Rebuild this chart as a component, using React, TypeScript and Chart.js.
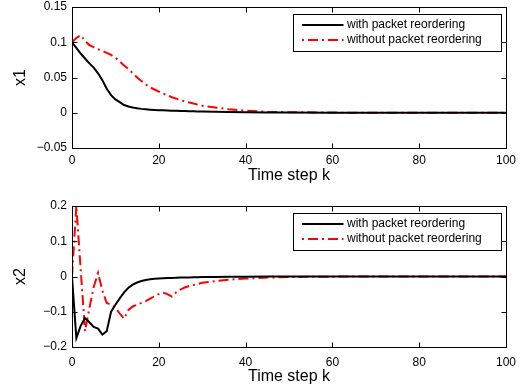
import React, { useEffect, useRef } from "react";
import { Chart, registerables } from "chart.js";

Chart.register(...registerables);

const FONT = "'Liberation Sans', Arial, Helvetica, sans-serif";

// Time steps
const kSteps = [
  0, 1, 2, 3, 4, 5, 6, 7, 8, 9, 10, 11, 12, 13, 14, 15, 16, 17, 18, 19, 20,
  21, 22, 23, 24, 25, 26, 27, 28, 29, 30, 33, 36, 40, 45, 50, 60, 70, 80, 90, 100,
];

// x1 with packet reordering
const x1With = [
  0.1, 0.092, 0.084, 0.077, 0.07, 0.064, 0.056, 0.046, 0.034, 0.025, 0.019,
  0.015, 0.011, 0.0088, 0.0074, 0.0063, 0.0055, 0.0049, 0.0044, 0.004, 0.0037,
  0.0035, 0.0033, 0.003, 0.0028, 0.0026, 0.0024, 0.0022, 0.002, 0.0018, 0.0017,
  0.0013, 0.001, 0.0007, 0.0004, 0.0002, 0.00005, 0, 0, 0, 0,
];

// x1 without packet reordering
const x1Without = [
  0.1, 0.106, 0.11, 0.102, 0.096, 0.093, 0.09, 0.088, 0.085, 0.082, 0.078,
  0.073, 0.067, 0.062, 0.056, 0.05, 0.045, 0.04, 0.036, 0.033, 0.03,
  0.027, 0.025, 0.022, 0.02, 0.018, 0.016, 0.0145, 0.013, 0.0115, 0.01,
  0.0075, 0.005, 0.003, 0.0015, 0.0008, 0.0002, 0, 0, 0, 0,
];

// x2 with packet reordering
const x2With = [
  0, -0.175, -0.14, -0.118, -0.13, -0.143, -0.148, -0.165, -0.155, -0.1, -0.08,
  -0.062, -0.045, -0.032, -0.023, -0.017, -0.013, -0.01, -0.008, -0.0065, -0.0055,
  -0.005, -0.0045, -0.004, -0.0035, -0.0031, -0.0028, -0.0025, -0.0022, -0.0019, -0.0017,
  -0.0012, -0.0008, -0.0005, -0.0002, -0.0001, 0, 0, 0, 0, 0,
];

// x2 without packet reordering
const x2Without = [
  0, 0.2, 0.02, -0.155, -0.09, -0.03, 0.01, -0.04, -0.075, -0.08, -0.088,
  -0.105, -0.12, -0.095, -0.085, -0.08, -0.075, -0.07, -0.063, -0.056, -0.05,
  -0.046, -0.05, -0.057, -0.045, -0.037, -0.031, -0.027, -0.024, -0.021, -0.018,
  -0.013, -0.009, -0.006, -0.003, -0.0015, -0.0004, 0, 0, 0, 0,
];

const seriesLabels = ["with packet reordering", "without packet reordering"];
const xTicks = [0, 20, 40, 60, 80, 100];
const x1Ticks = [-0.05, 0, 0.05, 0.1, 0.15];
const x2Ticks = [-0.2, -0.1, 0, 0.1, 0.2];
const xTitle = "Time step k";

const RED_DASH = [10, 4, 2, 4];

const fmt = (v: number) => {
  const s = String(Math.round(v * 1000) / 1000);
  return s.replace("-", "\u2212");
};

const framePlugin = {
  id: "matlabFrame",
  afterDatasetsDraw(chart: any, _args: any, opts: any) {
    const { ctx, chartArea: a, scales } = chart;
    ctx.save();
    ctx.strokeStyle = "#000";
    ctx.lineWidth = 1;
    ctx.setLineDash([]);
    const L = Math.round(a.left) + 0.5;
    const R = Math.round(a.right) + 0.5;
    const T = Math.round(a.top) + 0.5;
    const B = Math.round(a.bottom) + 0.5;
    ctx.strokeRect(L, T, R - L, B - T);
    const tl = 5;
    ctx.beginPath();
    for (const v of opts.xTicks) {
      const px = Math.round(scales.x.getPixelForValue(v)) + 0.5;
      ctx.moveTo(px, B);
      ctx.lineTo(px, B - tl);
      ctx.moveTo(px, T);
      ctx.lineTo(px, T + tl);
    }
    for (const v of opts.yTicks) {
      const py = Math.round(scales.y.getPixelForValue(v)) + 0.5;
      ctx.moveTo(L, py);
      ctx.lineTo(L + tl, py);
      ctx.moveTo(R, py);
      ctx.lineTo(R - tl, py);
    }
    ctx.stroke();

    // legend box
    const bw = 208;
    const bh = 37;
    const bx = Math.round(a.right - 5 - bw) + 0.5;
    const by = Math.round(a.top + opts.legendOffset) + 0.5;
    ctx.fillStyle = "#fff";
    ctx.fillRect(bx, by, bw, bh);
    ctx.strokeRect(bx, by, bw, bh);
    const ds = chart.data.datasets;
    ctx.font = `12px ${FONT}`;
    ctx.textBaseline = "middle";
    ctx.textAlign = "left";
    ds.forEach((d: any, i: number) => {
      const y = by + 10.5 + i * 15;
      ctx.save();
      ctx.strokeStyle = d.borderColor;
      ctx.lineWidth = d.borderWidth;
      ctx.setLineDash(d.borderDash || []);
      ctx.lineDashOffset = d.borderDash ? 14 : 0;
      ctx.beginPath();
      ctx.moveTo(bx + 8.5, y);
      ctx.lineTo(bx + 50, y);
      ctx.stroke();
      ctx.restore();
      ctx.fillStyle = "#000";
      ctx.fillText(d.label, bx + 53.5, y);
    });
    ctx.restore();
  },
};

type PanelProps = {
  height: number;
  withData: number[];
  withoutData: number[];
  yTicks: number[];
  yTitle: string;
  padTop: number;
  xAxisHeight: number;
  xTickPad: number;
  xTitlePadBottom: number;
  legendOffset: number;
};

function Panel(p: PanelProps) {
  const ref = useRef<HTMLCanvasElement | null>(null);
  useEffect(() => {
    if (!ref.current) return;
    const mk = (arr: number[]) => kSteps.map((k, i) => ({ x: k, y: arr[i] }));
    const chart = new Chart(ref.current, {
      type: "line",
      data: {
        datasets: [
          {
            label: seriesLabels[0],
            data: mk(p.withData),
            borderColor: "#000000",
            borderWidth: 2,
            pointRadius: 0,
            fill: false,
            tension: 0,
          },
          {
            label: seriesLabels[1],
            data: mk(p.withoutData),
            borderColor: "#ff0000",
            borderWidth: 2,
            borderDash: RED_DASH,
            pointRadius: 0,
            fill: false,
            tension: 0,
          },
        ],
      },
      options: {
        animation: false,
        responsive: false,
        devicePixelRatio: 1,
        events: [],
        layout: { padding: { left: 0, right: 22, top: p.padTop, bottom: 0 } },
        plugins: {
          legend: { display: false },
          tooltip: { enabled: false },
          matlabFrame: { xTicks, yTicks: p.yTicks, legendOffset: p.legendOffset },
        } as any,
        scales: {
          x: {
            type: "linear",
            min: 0,
            max: 100,
            grid: { display: false, drawTicks: false, tickLength: 0 },
            border: { display: false },
            ticks: {
              padding: p.xTickPad,
              color: "#000",
              font: { family: FONT, size: 12 },
              maxRotation: 0,
              callback: (v: any) => fmt(Number(v)),
            },
            afterBuildTicks: (s: any) => {
              s.ticks = xTicks.map((v) => ({ value: v }));
            },
            afterFit: (s: any) => {
              s.height = p.xAxisHeight;
              s.paddingLeft = 0;
              s.paddingRight = 0;
            },
            title: {
              display: true,
              text: xTitle,
              color: "#000",
              font: { family: FONT, size: 16 },
              padding: { top: 0, bottom: p.xTitlePadBottom },
            },
          },
          y: {
            type: "linear",
            min: p.yTicks[0],
            max: p.yTicks[p.yTicks.length - 1],
            grid: { display: false, drawTicks: false, tickLength: 0 },
            border: { display: false },
            ticks: {
              padding: 5,
              color: "#000",
              font: { family: FONT, size: 12 },
              callback: (v: any) => fmt(Number(v)),
            },
            afterBuildTicks: (s: any) => {
              s.ticks = p.yTicks.map((v) => ({ value: v }));
            },
            afterFit: (s: any) => {
              s.width = 72;
              s.paddingTop = 0;
              s.paddingBottom = 0;
            },
            title: {
              display: true,
              text: p.yTitle,
              color: "#000",
              font: { family: FONT, size: 16 },
              padding: { top: 11.4, bottom: 0 },
            },
          },
        },
      } as any,
      plugins: [framePlugin],
    });
    return () => chart.destroy();
  }, []);
  return (
    <canvas
      ref={ref}
      width={528}
      height={p.height}
      style={{ display: "block", width: 528, height: p.height }}
    />
  );
}

export default function App() {
  return (
    <div
      style={{
        position: "absolute",
        left: 0,
        top: 0,
        width: 528,
        height: 389,
        background: "#fff",
      }}
    >
      <Panel
        height={195}
        withData={x1With}
        withoutData={x1Without}
        yTicks={x1Ticks}
        yTitle="x1"
        padTop={7}
        xAxisHeight={47}
        xTickPad={5}
        xTitlePadBottom={9.4}
        legendOffset={7}
      />
      <Panel
        height={194}
        withData={x2With}
        withoutData={x2Without}
        yTicks={x2Ticks}
        yTitle="x2"
        padTop={11}
        xAxisHeight={42}
        xTickPad={8}
        xTitlePadBottom={2.7}
        legendOffset={6.5}
      />
    </div>
  );
}
